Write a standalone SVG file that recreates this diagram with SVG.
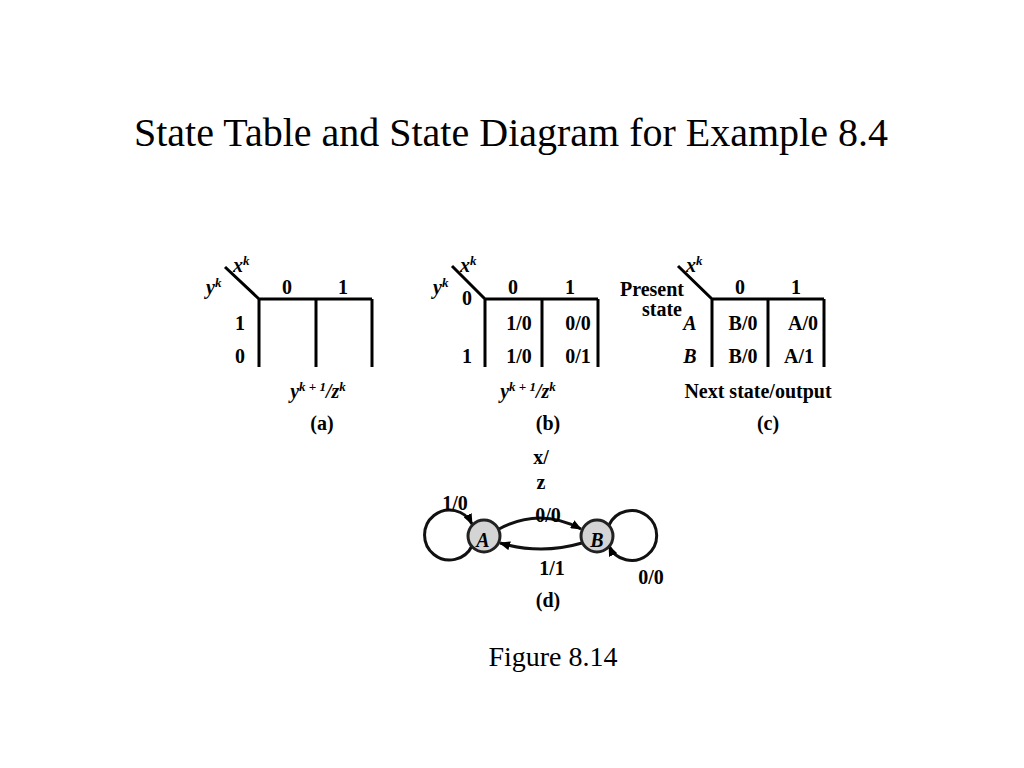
<svg xmlns="http://www.w3.org/2000/svg" width="1024" height="768" viewBox="0 0 1024 768">
<defs>
<style>
.t{font-family:"Liberation Serif","Times New Roman",serif;font-weight:bold;font-size:20px;fill:#000;text-anchor:middle}
.s{text-anchor:start}
.i{font-style:italic}
.ln{stroke:#000;stroke-width:3;fill:none}
.cn{stroke:#111;stroke-width:3;fill:none}
.node{fill:#d4d4d4;stroke:#222;stroke-width:3}
</style>
<marker id="ah" markerUnits="userSpaceOnUse" markerWidth="11" markerHeight="9" refX="10" refY="4.5" orient="auto">
<path d="M0,0 L11,4.5 L0,9 z" fill="#000"/>
</marker>
</defs>
<rect width="1024" height="768" fill="#fff"/>
<text x="511" y="146" font-family="Liberation Serif,'Times New Roman',serif" font-size="40" text-anchor="middle">State Table and State Diagram for Example 8.4</text>

<g id="table-a">
<path class="ln" d="M225,267 L259,299 L372,299 M259,299 L259,367 M316,299 L316,367 M372,299 L372,367"/>
<text class="t i s" x="233" y="272">x<tspan dy="-7" font-size="13">k</tspan></text>
<text class="t i s" x="206" y="294">y<tspan dy="-7" font-size="13">k</tspan></text>
<text class="t" x="287" y="294">0</text>
<text class="t" x="343" y="294">1</text>
<text class="t" x="240" y="330">1</text>
<text class="t" x="240" y="363">0</text>
<text class="t i" x="318" y="398">y<tspan dy="-7" font-size="13">k + 1</tspan><tspan dy="7">/z</tspan><tspan dy="-7" font-size="13">k</tspan></text>
<text class="t" x="322" y="430">(a)</text>
</g>

<g id="table-b">
<path class="ln" d="M452,266 L485,299 L598,299 M485,299 L485,367 M542,299 L542,367 M598,299 L598,367"/>
<text class="t i s" x="460" y="272">x<tspan dy="-7" font-size="13">k</tspan></text>
<text class="t i s" x="433" y="294">y<tspan dy="-7" font-size="13">k</tspan></text>
<text class="t" x="513" y="294">0</text>
<text class="t" x="570" y="294">1</text>
<text class="t" x="467" y="305">0</text>
<text class="t" x="467" y="363">1</text>
<text class="t" x="519" y="330">1/0</text>
<text class="t" x="578" y="330">0/0</text>
<text class="t" x="519" y="363">1/0</text>
<text class="t" x="578" y="363">0/1</text>
<text class="t i" x="528" y="398">y<tspan dy="-7" font-size="13">k + 1</tspan><tspan dy="7">/z</tspan><tspan dy="-7" font-size="13">k</tspan></text>
<text class="t" x="548" y="430">(b)</text>
</g>

<g id="table-c">
<path class="ln" d="M678,266 L712,299 L824,299 M712,299 L712,367 M768,299 L768,367 M824,299 L824,367"/>
<text class="t i s" x="686" y="272">x<tspan dy="-7" font-size="13">k</tspan></text>
<text class="t" x="652" y="296">Present</text>
<text class="t" x="662" y="316">state</text>
<text class="t" x="740" y="294">0</text>
<text class="t" x="796" y="294">1</text>
<text class="t i" x="690" y="330">A</text>
<text class="t i" x="690" y="363">B</text>
<text class="t" x="743" y="330">B/0</text>
<text class="t" x="803" y="330">A/0</text>
<text class="t" x="743" y="363">B/0</text>
<text class="t" x="799" y="363">A/1</text>
<text class="t" x="758" y="398">Next state/output</text>
<text class="t" x="768" y="430">(c)</text>
</g>

<g id="connectors">
<path class="cn" d="M472,546 A25,25 0 1 1 472,524" marker-end="url(#ah)"/>
<path class="cn" d="M609,525 A25,25 0 1 1 609,546" marker-end="url(#ah)"/>
<path class="cn" d="M499,529 Q540,507 581,529" marker-end="url(#ah)"/>
<path class="cn" d="M582,543 Q541,555 500,543" marker-end="url(#ah)"/>
</g>

<g id="node-A">
<circle class="node" cx="484" cy="536" r="16"/>
<text class="t i" x="483" y="547" font-size="17">A</text>
</g>
<g id="node-B">
<circle class="node" cx="597" cy="536" r="16"/>
<text class="t i" x="597" y="547" font-size="17">B</text>
</g>

<g id="labels-d">
<text class="t" x="541" y="464">x/</text>
<text class="t" x="541" y="489">z</text>
<text class="t" x="455" y="510">1/0</text>
<text class="t" x="548" y="522">0/0</text>
<text class="t" x="552" y="575">1/1</text>
<text class="t" x="651" y="584">0/0</text>
<text class="t" x="548" y="607">(d)</text>
</g>

<text x="553" y="666" font-family="Liberation Serif,'Times New Roman',serif" font-size="28" text-anchor="middle">Figure 8.14</text>
</svg>
